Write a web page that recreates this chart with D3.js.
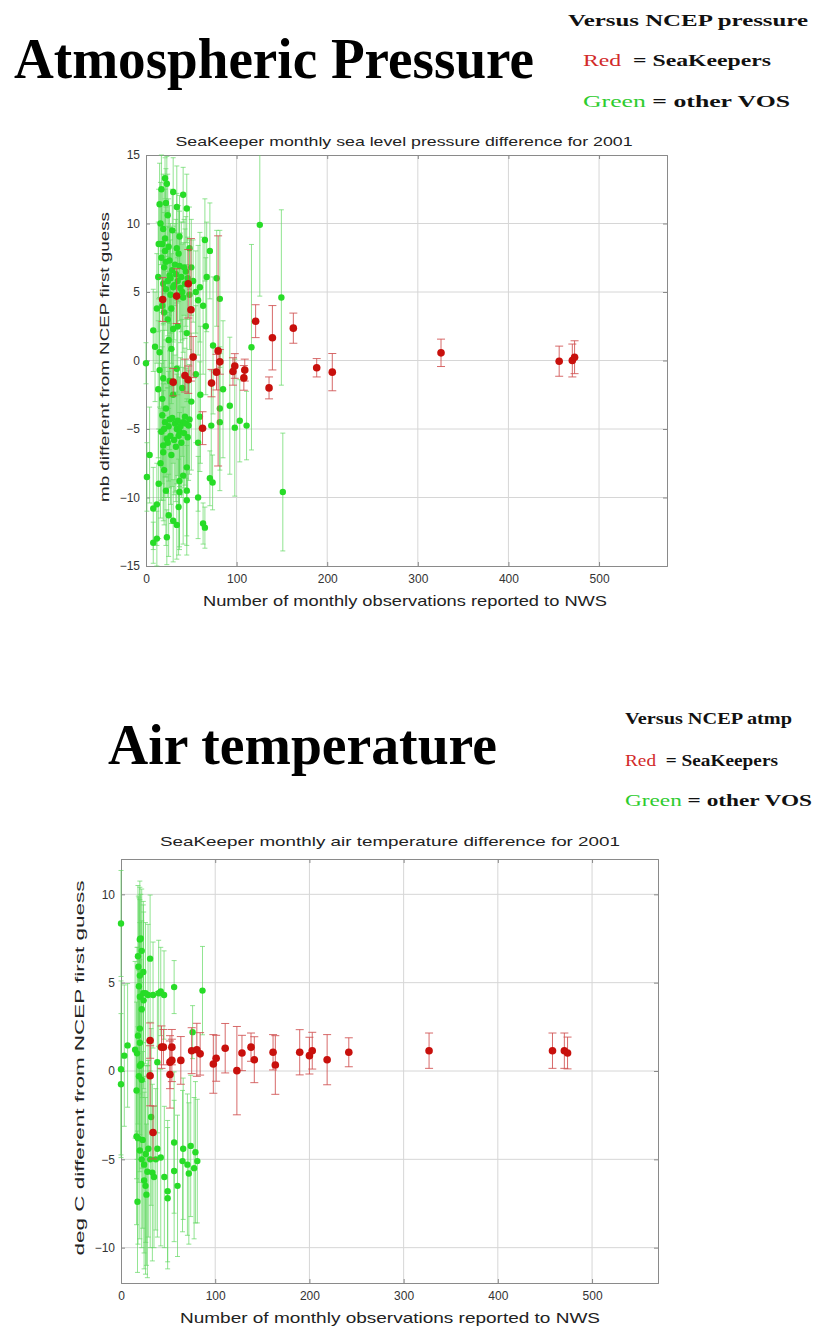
<!DOCTYPE html>
<html>
<head>
<meta charset="utf-8">
<script src="https://cdn.jsdelivr.net/npm/d3@7"></script>
<style>
  body { margin: 0; background: #fff; }
  svg { display: block; }
  .serif { font-family: "Liberation Serif", "Times New Roman", serif; font-weight: bold; white-space: pre; }
  .sans { font-family: "Liberation Sans", Arial, sans-serif; }
</style>
</head>
<body>
<svg id="chart" width="816" height="1330"></svg>
<script>
// observations per month, difference (mb), error half-width
const pressureGreen = [
  [0, -0.2, 1.5], [1, -8.5, 2.5], [4, -6.9, 3.5], [8, 2.2, 3], [8, -10.8, 3], [8, -13.3, 1.5],
  [12, -13.0, 2], [13.5, 6.1, 4], [13.5, -2.1, 5], [15, 11.4, 3], [15, 0.6, 4], [15, -0.7, 4.5],
  [17, 12.5, 2.5], [17, 7.5, 4], [17, -5.2, 5], [19, 9.6, 4], [19, 5.6, 3], [19, -1.3, 4],
  [19, -6.2, 4], [19, -6.7, 5], [21, 13.3, 1.5], [21, 8.9, 4], [21, 8.0, 4.5], [21, -4.5, 4],
  [22, 5.2, 3], [23, 12.9, 2], [23, -5.7, 4], [23, -12.9, 2], [24, 10.6, 3], [24, 3.0, 5],
  [25, -11.3, 3], [26, 7.3, 4], [26, 6.2, 3.5], [26, -4.3, 5], [27, 4.8, 4], [28, 0.85, 4],
  [28, -6.9, 5], [29, 6.6, 3], [30, 12.3, 2.5], [30, 5.35, 4], [30, 2.3, 4], [30, -11.7, 3],
  [32, 7.0, 3], [34, 11.2, 3], [34, 8.2, 4], [34, -0.6, 5], [34, -5.0, 4], [34, -12.0, 2.5],
  [36, -10.7, 3.5], [37, 9.05, 3], [37, 6.9, 4], [37, -5.2, 4], [37, -8.8, 5], [37, -9.6, 4],
  [39, 6.1, 4], [40, 5.0, 3.5], [41, 12.1, 2], [41, 4.6, 4], [41, -4.5, 4], [41, -8.4, 5],
  [43, -4.1, 5], [44, 6.5, 4], [45, 11.1, 2.5], [45, -7.8, 5], [45, -9.5, 4], [45, -10.2, 4],
  [47, -4.75, 4], [48, 8.2, 3], [50, 6.8, 3.5], [50, -3.0, 5], [55, 5.0, 3], [57.5, 4.4, 4],
  [57.5, -6.0, 5], [57.5, -10.0, 3], [59.5, 5.35, 4], [59.5, -4.1, 4], [63, 4.0, 5], [63, -11.9, 1.5],
  [65, 8.8, 3], [65, -12.2, 1.5], [67, 6.1, 4], [70.5, 8.0, 3.5], [70.5, -8.6, 2], [72, -4.75, 4],
  [73.5, -8.9, 2], [74, 1.1, 5], [78, 6.0, 3.5], [81.5, 4.5, 5], [81.5, -3.5, 4.5], [81.5, -4.5, 5],
  [85, -2.1, 5], [92.5, -3.3, 5], [98, -4.9, 5], [103.5, -4.4, 3], [111, -4.75, 2.5],
  [116.4, 0.97, 7.5], [125.6, 9.9, 5.2], [149.4, 4.6, 6.4], [151, -9.6, 4.3],
  [16, 10.0, 3], [18, 8.5, 4], [18, 4.0, 4], [20, 6.8, 4], [20, 3.5, 5], [22, 7.2, 4],
  [22, 11.5, 2.5], [24, 5.8, 4], [25, 8.3, 3.5], [27, 6.0, 4], [28, 3.8, 4], [29, 9.5, 3],
  [31, 5.5, 4], [33, 6.3, 4], [35, 5.8, 3.5], [36, 7.8, 3.5], [38, 5.3, 4], [42, 6.8, 3.5],
  [43, 5.6, 4], [46, 6.0, 3], [48, 4.8, 4], [52, 5.8, 3], [18, -4.0, 5], [20, -5.0, 5],
  [22, -3.5, 5], [24, -6.0, 4], [25, -4.8, 4], [27, -5.5, 5], [29, -4.2, 5], [31, -5.8, 4],
  [32, -4.6, 5], [33, -6.3, 4], [35, -4.4, 4], [36, -5.5, 5], [38, -4.8, 5], [39, -6.0, 4],
  [42, -5.3, 4], [44, -4.6, 4], [46, -5.6, 4], [48, -4.3, 4], [18, -2.8, 5], [20, -8.0, 4],
  [22, -9.5, 4], [16, -7.5, 4], [14, -9.0, 4], [12, -10.5, 3], [26, -1.5, 5], [30, -2.5, 5],
  [40, -2.0, 5], [10, 1.0, 4], [12, 3.8, 4], [14, 8.5, 4], [25, 1.5, 5], [35, 2.5, 5],
  [45, 2.0, 5], [55, -1.0, 5], [60, -2.5, 5], [66, 2.5, 5]
]
const pressureRed = [
  [18.4, 4.45, 1.6], [30, -1.58, 1.0], [33.8, 4.7, 2.0], [43, -1.1, 1.2], [46.6, 5.6, 2.5],
  [46.6, -1.4, 1.0], [49.6, 3.7, 5.2], [52, 0.25, 1.5], [62.4, -4.94, 1.2], [72.3, -1.65, 1.0],
  [77.8, -0.85, 1.3], [79.6, 0.7, 8.4], [81.5, -0.1, 0.9], [96, -0.8, 1.0], [98, -0.4, 0.9],
  [108, -1.27, 0.9], [109, -0.7, 0.8], [121, 2.87, 1.2], [135.8, -2.0, 0.8], [139.5, 1.66, 2.35],
  [162.6, 2.36, 1.1], [188.4, -0.53, 0.67], [205.6, -0.85, 1.36], [325.6, 0.56, 1.0],
  [456, -0.05, 1.1], [470.5, 0.0, 1.2], [473, 0.24, 1.2]
]
// observations per month, difference (deg C), error half-width
const tempGreen = [
  [0, 8.35, 3], [0, 0.1, 5], [0, -0.75, 4], [3.5, 0.87, 4], [7, 1.45, 3.5], [16.5, -1.1, 5],
  [16.5, -3.7, 5], [17.5, -7.4, 4], [18, -3.8, 6], [18.4, 5.9, 4], [19, -0.3, 6], [20, 7.45, 3.3],
  [20, 5.4, 5], [20, 4.2, 5.5], [20, 2.4, 6], [20, 1.6, 6], [20, 0.3, 6], [21, 7.5, 2.5],
  [21.5, 0.4, 5], [23.7, 5.6, 4], [23.7, 4.4, 5], [24.5, -5.3, 5], [24.5, -6.2, 5], [26.3, -4.7, 5],
  [28, -5.7, 6], [28.7, 4.3, 4], [30.9, 6.36, 3.6], [32, -2.6, 5], [33.3, -5.75, 5], [36.9, -5.0, 4],
  [38.6, 0.5, 4], [38.6, -4.4, 5], [42.2, 4.5, 2.5], [42.2, -4.9, 5], [45.7, 4.3, 2.5], [49.5, -6.8, 4],
  [49.5, -7.2, 4], [56.4, 4.75, 1.5], [56.4, -4.05, 4], [56.4, -5.66, 4], [65.3, -5.1, 4],
  [70.5, -5.3, 4], [74, -4.24, 4], [76, 2.2, 1.5], [77.6, -5.5, 4], [81, -5.1, 3.5], [86.5, 4.55, 2.5],
  [18, 6.5, 4], [19, 4.8, 5], [22, 6.8, 3.5], [22, 3.5, 5], [24, 4.0, 5], [26, 4.4, 4],
  [17, 1.0, 6], [18, 2.0, 5], [22, -0.5, 5], [15, 1.2, 5], [20, -4.5, 5], [22, -5.0, 5],
  [23, -3.9, 5], [26, -6.5, 5], [29, -4.4, 5], [31, -5.0, 5], [27, -7.0, 4], [35, -6.0, 4],
  [40, 4.4, 3], [34, 4.3, 3], [46, -6.0, 4], [60, -6.5, 4], [66, -4.4, 4], [72, -5.8, 4], [79, -4.6, 4]
]
const tempRed = [
  [30.9, 1.72, 1.0], [30.9, -0.27, 1.7], [34, -3.48, 1.5], [43, 1.35, 1.2], [45, 1.35, 1.0],
  [52, 0.5, 1.5], [52, -0.2, 1.9], [54, 1.35, 1.0], [54, 0.6, 1.2], [63.5, 0.6, 1.35],
  [75, 1.15, 1.3], [80.5, 1.2, 1.5], [84, 0.97, 1.2], [98, 0.4, 1.66], [101, 0.72, 1.3],
  [110.6, 1.29, 1.4], [123, 0.02, 2.5], [128.4, 1.02, 1.0], [138, 1.35, 0.8], [141.5, 0.64, 1.3],
  [161.4, 1.06, 1.0], [163.8, 0.34, 1.66], [189.7, 1.06, 1.28], [200, 0.87, 1.04], [203, 1.15, 1.04],
  [218.8, 0.64, 1.42], [241.8, 1.06, 0.82], [327, 1.15, 1.0], [458, 1.15, 1.0], [470.6, 1.15, 1.0],
  [474, 1.02, 0.9]
]
const xTicks = [0, 100, 200, 300, 400, 500]
const pressureYTicks = [-15, -10, -5, 0, 5, 10, 15]
const tempYTicks = [-10, -5, 0, 5, 10]

const svg = d3.select('#chart')

function drawPanel(p) {
  const x = d3.scaleLinear().domain(p.xDomain).range([p.left, p.right])
  const y = d3.scaleLinear().domain(p.yDomain).range([p.bottom, p.top])
  const g = svg.append('g')

  // grid
  g.append('g').selectAll('line').data(p.xTicks.slice(1)).enter().append('line')
    .attr('x1', d => x(d)).attr('x2', d => x(d)).attr('y1', p.top).attr('y2', p.bottom)
    .attr('stroke', '#d6d6d6').attr('stroke-width', 1)
  g.append('g').selectAll('line').data(p.yTicks.filter(d => d > p.yDomain[0] && d < p.yDomain[1])).enter().append('line')
    .attr('x1', p.left).attr('x2', p.right).attr('y1', d => y(d)).attr('y2', d => y(d))
    .attr('stroke', '#d6d6d6').attr('stroke-width', 1)

  // axes with inward ticks
  const fmt = d => d < 0 ? '\u2212' + Math.abs(d) : String(d)
  g.append('g').attr('transform', `translate(0,${p.bottom})`)
    .call(d3.axisBottom(x).tickValues(p.xTicks).tickSize(-4).tickPadding(8).tickFormat(fmt))
  g.append('g').attr('transform', `translate(${p.left},0)`)
    .call(d3.axisLeft(y).tickValues(p.yTicks).tickSize(-4).tickPadding(6).tickFormat(fmt))
  g.append('g').attr('transform', `translate(0,${p.top})`)
    .call(d3.axisTop(x).tickValues(p.xTicks).tickSize(-4).tickFormat(''))
  g.append('g').attr('transform', `translate(${p.right},0)`)
    .call(d3.axisRight(y).tickValues(p.yTicks).tickSize(-4).tickFormat(''))
  g.selectAll('.domain').attr('stroke', '#8a8a8a')
  g.selectAll('.tick line').attr('stroke', '#8a8a8a')
  g.selectAll('.tick text').attr('class', 'sans').attr('font-size', 12).attr('fill', '#333')

  // error bars + markers
  function series(data, barColor, barOpacity, capW, dotColor, r) {
    const s = g.append('g')
    const eb = s.selectAll('g.eb').data(data).enter().append('g').attr('class', 'eb')
      .attr('stroke', barColor).attr('stroke-opacity', barOpacity).attr('stroke-width', 1)
    eb.append('line')
      .attr('x1', d => x(d[0])).attr('x2', d => x(d[0]))
      .attr('y1', d => y(Math.min(d[1] + d[2], p.yDomain[1]))).attr('y2', d => y(Math.max(d[1] - d[2], p.yDomain[0])))
    eb.filter(d => d[1] + d[2] <= p.yDomain[1]).append('line')
      .attr('x1', d => x(d[0]) - capW).attr('x2', d => x(d[0]) + capW)
      .attr('y1', d => y(d[1] + d[2])).attr('y2', d => y(d[1] + d[2]))
    eb.filter(d => d[1] - d[2] >= p.yDomain[0]).append('line')
      .attr('x1', d => x(d[0]) - capW).attr('x2', d => x(d[0]) + capW)
      .attr('y1', d => y(d[1] - d[2])).attr('y2', d => y(d[1] - d[2]))
    s.selectAll('circle').data(data).enter().append('circle')
      .attr('cx', d => x(d[0])).attr('cy', d => y(d[1])).attr('r', r)
      .attr('fill', dotColor)
  }
  series(p.green, '#62d862', 0.7, 2.5, '#27dc27', 3.2)
  series(p.red, '#d05050', 0.85, 4, '#c8100c', 3.8)

  // titles and labels
  svg.append('text').attr('class', 'sans').attr('x', p.titleX).attr('y', p.titleY)
    .attr('text-anchor', 'middle').attr('font-size', 13).attr('fill', '#222')
    .attr('textLength', p.titleLen).attr('lengthAdjust', 'spacingAndGlyphs').text(p.title)
  svg.append('text').attr('class', 'sans').attr('x', p.xLabelX).attr('y', p.xLabelY)
    .attr('text-anchor', 'middle').attr('font-size', 14.5).attr('fill', '#222')
    .attr('textLength', p.xLabelLen).attr('lengthAdjust', 'spacingAndGlyphs').text(p.xLabel)
  svg.append('text').attr('class', 'sans')
    .attr('transform', `translate(${p.yLabelX},${p.yLabelY}) rotate(-90)`)
    .attr('text-anchor', 'middle').attr('font-size', 13.5).attr('fill', '#222')
    .attr('textLength', p.yLabelLen).attr('lengthAdjust', 'spacingAndGlyphs').text(p.yLabel)

  // headline + legend
  svg.append('text').attr('class', 'serif').attr('x', p.headX).attr('y', p.headY)
    .attr('font-size', 56).attr('fill', '#000')
    .attr('textLength', p.headLen).attr('lengthAdjust', 'spacingAndGlyphs').text(p.head)
  svg.append('text').attr('class', 'serif').attr('x', p.legX).attr('y', p.legY[0])
    .attr('font-size', 17).attr('fill', '#111')
    .attr('textLength', p.legLen[0]).attr('lengthAdjust', 'spacingAndGlyphs').text(p.versus)
  const l1 = svg.append('text').attr('class', 'serif').attr('x', p.legX2).attr('y', p.legY[1])
    .attr('font-size', 17).attr('fill', '#111')
    .attr('textLength', p.legLen[1]).attr('lengthAdjust', 'spacingAndGlyphs')
  l1.append('tspan').attr('fill', '#d22a2a').attr('font-weight', 'normal').text('Red')
  l1.append('tspan').text('  = SeaKeepers')
  const l2 = svg.append('text').attr('class', 'serif').attr('x', p.legX2).attr('y', p.legY[2])
    .attr('font-size', 17).attr('fill', '#111')
    .attr('textLength', p.legLen[2]).attr('lengthAdjust', 'spacingAndGlyphs')
  l2.append('tspan').attr('fill', '#2ecc2e').attr('font-weight', 'normal').text('Green')
  l2.append('tspan').text(' = other VOS')
}

drawPanel({
  left: 146, right: 667, top: 155, bottom: 566,
  xDomain: [0, 575], yDomain: [-15, 15], xTicks: xTicks, yTicks: pressureYTicks,
  green: pressureGreen, red: pressureRed,
  title: 'SeaKeeper monthly sea level pressure difference for 2001', titleX: 404, titleY: 146, titleLen: 457,
  xLabel: 'Number of monthly observations reported to NWS', xLabelX: 405, xLabelY: 606, xLabelLen: 404,
  yLabel: 'mb different from NCEP first guess', yLabelX: 109, yLabelY: 357, yLabelLen: 290,
  head: 'Atmospheric Pressure', headX: 14, headY: 78, headLen: 520,
  versus: 'Versus NCEP pressure', legX: 568, legX2: 583, legY: [26, 66, 107], legLen: [240, 188, 207]
})

drawPanel({
  left: 121, right: 658, top: 859, bottom: 1283,
  xDomain: [0, 570], yDomain: [-12, 12], xTicks: xTicks, yTicks: tempYTicks,
  green: tempGreen, red: tempRed,
  title: 'SeaKeeper monthly air temperature difference for 2001', titleX: 390, titleY: 846, titleLen: 460,
  xLabel: 'Number of monthly observations reported to NWS', xLabelX: 390, xLabelY: 1323, xLabelLen: 420,
  yLabel: 'deg C different from NCEP first guess', yLabelX: 84, yLabelY: 1068, yLabelLen: 375,
  head: 'Air temperature', headX: 108, headY: 764, headLen: 389,
  versus: 'Versus NCEP atmp', legX: 625, legX2: 625, legY: [724, 766, 806], legLen: [167, 153, 187]
})
</script>
</body>
</html>
